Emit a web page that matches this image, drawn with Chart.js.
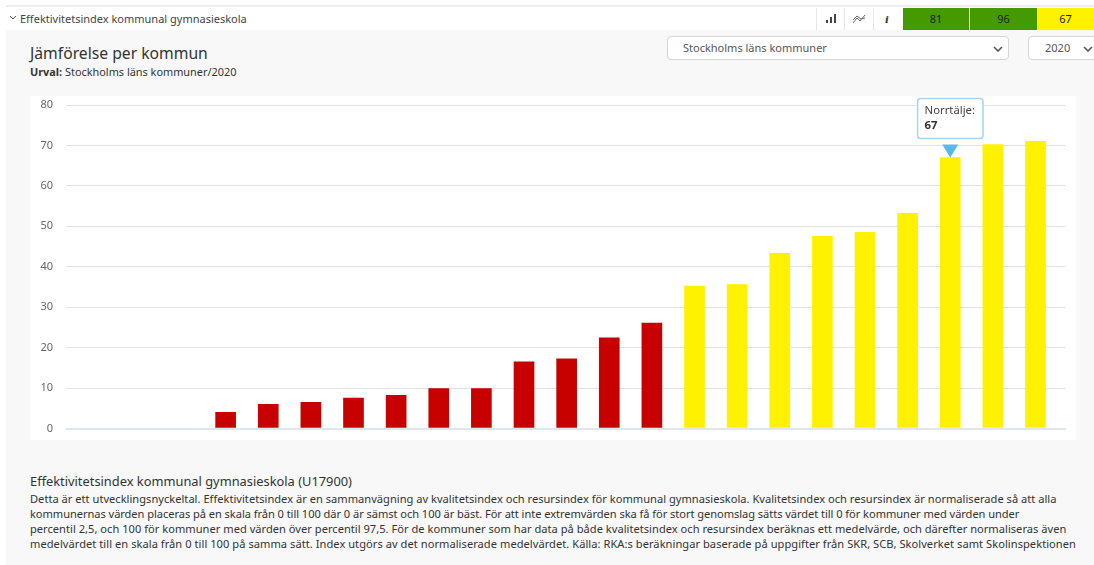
<!DOCTYPE html>
<html lang="sv">
<head>
<meta charset="utf-8">
<title>Jämförelse per kommun</title>
<script src="https://cdn.jsdelivr.net/npm/chart.js@4/dist/chart.umd.min.js"></script>
<style>
  html, body { margin: 0; padding: 0; background: #fff; overflow: hidden; }
  body { width: 1094px; height: 565px; position: relative; font-family: "Noto Sans", sans-serif; color: #444; }
  .abs { position: absolute; white-space: nowrap; }
  #topline { left: 6px; top: 5px; width: 1088px; height: 2px; background: #eeeeee; }
  #panel { left: 6px; top: 30px; width: 1088px; height: 535px; background: #f8f8f8; }
  #header { left: 20px; top: 11px; font-size: 11px; line-height: 15px; color: #444; }
  #chev { left: 9px; top: 15px; }
  .tool { top: 8px; width: 28px; height: 22px; background: #fff; border-left: 1px solid #e4e4e4; box-sizing: border-box; }
  .tool svg { position: absolute; left: 7px; top: 5px; }
  .kpi { top: 8px; height: 22px; line-height: 22px; text-align: center; font-size: 11px; color: #222; }
  .sel { top: 36px; height: 24px; background: #fff; border: 1px solid #d5d5d5; border-radius: 4px; box-sizing: border-box; font-size: 11px; line-height: 22px; color: #555; }
  .sel svg { position: absolute; top: 9px; }
  #title { left: 30px; top: 43px; font-size: 15.7px; line-height: 20px; color: #333; }
  #urval { left: 30px; top: 65px; font-size: 10.9px; line-height: 14px; color: #333; }
  #urval b { font-weight: 700; }
  #chartbox { left: 30px; top: 96px; width: 1046px; height: 344px; background: #fff; }
  #desc-title { left: 30px; top: 473px; font-size: 12.85px; line-height: 16px; color: #333; }
  .desc { left: 30px; font-size: 11.1px; line-height: 15px; color: #333; }
</style>
</head>
<body>
<div class="abs" id="topline"></div>
<div class="abs" id="panel"></div>
<svg class="abs" id="chev" width="8" height="5"><path d="M1 1 L4 4 L7 1" fill="none" stroke="#555" stroke-width="1"/></svg>
<div class="abs" id="header">Effektivitetsindex kommunal gymnasieskola</div>

<div class="abs tool" style="left:816px"><svg width="14" height="12"><rect x="2" y="7" width="2" height="3" fill="#444"/><rect x="6" y="4" width="2" height="6" fill="#444"/><rect x="10" y="1" width="2" height="9" fill="#444"/></svg></div>
<div class="abs tool" style="left:844px"><svg width="14" height="12"><path d="M1 10 L5 5 L8 8 L13 2 M1 7 L5 3 L9 6 L13 5" fill="none" stroke="#666" stroke-width="1"/></svg></div>
<div class="abs tool" style="left:873px;width:30px"><svg width="14" height="12"><text x="4" y="10" font-family="DejaVu Serif" font-size="10" font-weight="700" font-style="italic" fill="#333">i</text></svg></div>
<div class="abs kpi" style="left:903px;width:66px;background:#449a00">81</div>
<div class="abs kpi" style="left:970px;width:67px;background:#449a00">96</div>
<div class="abs kpi" style="left:1037px;width:57px;background:#fff200">67</div>

<div class="abs" id="title">Jämförelse per kommun</div>
<div class="abs" id="urval"><b>Urval:</b> Stockholms läns kommuner/2020</div>

<div class="abs sel" style="left:667px;width:342px;padding-left:15px">Stockholms läns kommuner<svg style="right:5px" width="10" height="6"><path d="M1 1 L5 5 L9 1" fill="none" stroke="#555" stroke-width="1.6"/></svg></div>
<div class="abs sel" style="left:1028px;width:80px;padding-left:16px">2020<svg style="left:54px" width="10" height="6"><path d="M1 1 L5 5 L9 1" fill="none" stroke="#555" stroke-width="1.6"/></svg></div>

<div class="abs" id="chartbox"><canvas id="chart" width="1046" height="344"></canvas></div>

<div class="abs" id="desc-title">Effektivitetsindex kommunal gymnasieskola (U17900)</div>
<div class="abs desc" style="top:491px;letter-spacing:0.015px">Detta är ett utvecklingsnyckeltal. Effektivitetsindex är en sammanvägning av kvalitetsindex och resursindex för kommunal gymnasieskola. Kvalitetsindex och resursindex är normaliserade så att alla</div>
<div class="abs desc" style="top:506px;letter-spacing:-0.055px">kommunernas värden placeras på en skala från 0 till 100 där 0 är sämst och 100 är bäst. För att inte extremvärden ska få för stort genomslag sätts värdet till 0 för kommuner med värden under</div>
<div class="abs desc" style="top:521px;letter-spacing:0.02px">percentil 2,5, och 100 för kommuner med värden över percentil 97,5. För de kommuner som har data på både kvalitetsindex och resursindex beräknas ett medelvärde, och därefter normaliseras även</div>
<div class="abs desc" style="top:536px;letter-spacing:0.045px">medelvärdet till en skala från 0 till 100 på samma sätt. Index utgörs av det normaliserade medelvärdet. Källa: RKA:s beräkningar baserade på uppgifter från SKR, SCB, Skolverket samt Skolinspektionen</div>

<script>
// värden, kommunerna i stigande ordning
const positions = [0, 1, 2, 3, 4, 5, 6, 7, 8, 9, 10, 11, 12, 13, 14, 15, 16, 17, 18, 19];
const values = [4, 6, 6.5, 7.5, 8.2, 9.9, 9.9, 16.5, 17.2, 22.4, 26.1, 35.2, 35.6, 43.3, 47.5, 48.5, 53.2, 67, 70.2, 71];
const redCount = 11;
const highlightIndex = 17;
const highlightName = "Norrtälje:";

const red = "#c70000";
const yellow = "#fff200";
const arrowBlue = "#5bb7e6";
const fontFamily = '"Noto Sans", sans-serif';

// blå pil under tooltipen
const arrowPlugin = {
  id: "tooltipArrow",
  afterDraw(chart) {
    const bar = chart.getDatasetMeta(0).data[highlightIndex];
    const ctx = chart.ctx;
    ctx.save();
    ctx.fillStyle = arrowBlue;
    ctx.beginPath();
    ctx.moveTo(bar.x - 8, bar.y - 13);
    ctx.lineTo(bar.x + 8, bar.y - 13);
    ctx.lineTo(bar.x, bar.y);
    ctx.closePath();
    ctx.fill();
    ctx.restore();
  },
};

const chart = new Chart(document.getElementById("chart").getContext("2d"), {
  type: "bar",
  data: {
    datasets: [
      {
        data: positions.map((x, i) => ({ x, y: values[i] })),
        backgroundColor: positions.map((x, i) => (i < redCount ? red : yellow)),
        hoverBackgroundColor: positions.map((x, i) => (i < redCount ? red : yellow)),
        barThickness: 20,
      },
    ],
  },
  options: {
    responsive: false,
    animation: false,
    events: [],
    layout: { padding: { top: 9, right: 10, bottom: 11.5, left: 0 } },
    scales: {
      x: { type: "linear", display: false, min: -3.745, max: 19.715, offset: false },
      y: {
        min: 0,
        max: 80,
        border: { display: false },
        afterFit(scale) {
          scale.width = 36;
          scale.paddingTop = 0;
          scale.paddingBottom = 0;
        },
        grid: {
          drawTicks: false,
          color: (c) => (c.tick.value === 0 ? "#dfe6ee" : "#e2e2e2"),
          lineWidth: (c) => (c.tick.value === 0 ? 2 : 1),
        },
        ticks: {
          stepSize: 10,
          padding: 13,
          color: "#666",
          font: { family: fontFamily, size: 11 },
        },
      },
    },
    plugins: {
      legend: { display: false },
      tooltip: {
        enabled: true,
        backgroundColor: "#fff",
        borderColor: "#a5d6ee",
        borderWidth: 1.5,
        cornerRadius: 3,
        caretSize: 0,
        caretPadding: 19,
        padding: { top: 6, bottom: 6, left: 7, right: 8 },
        displayColors: false,
        xAlign: "center",
        yAlign: "bottom",
        titleColor: "#444",
        bodyColor: "#333",
        titleFont: { family: fontFamily, size: 11.3, weight: "normal" },
        bodyFont: { family: fontFamily, size: 11.3, weight: "bold" },
        titleMarginBottom: 1,
        callbacks: {
          title: () => highlightName,
          label: (c) => String(c.parsed.y),
        },
      },
    },
  },
  plugins: [arrowPlugin],
});

const activeBar = chart.getDatasetMeta(0).data[highlightIndex];
chart.tooltip.setActiveElements([{ datasetIndex: 0, index: highlightIndex }], { x: activeBar.x, y: activeBar.y });
chart.update();
</script>
</body>
</html>
